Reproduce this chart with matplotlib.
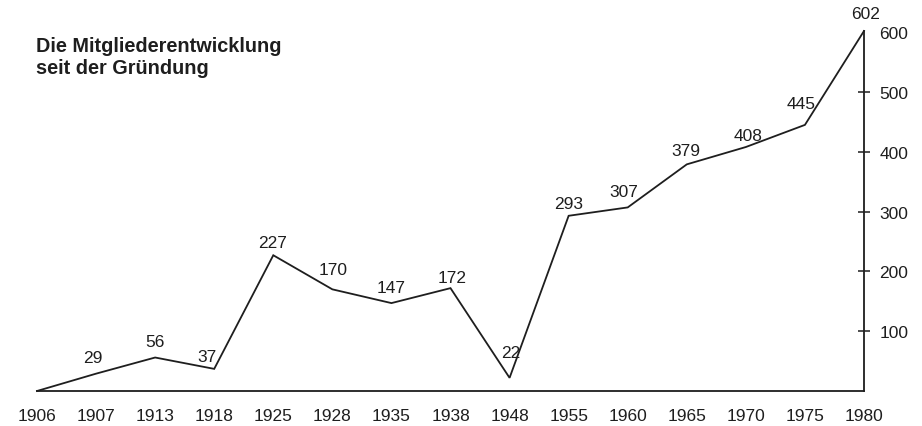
import matplotlib
matplotlib.use("Agg")
import matplotlib.pyplot as plt
import numpy as np

years = ["1906", "1907", "1913", "1918", "1925", "1928", "1935", "1938",
         "1948", "1955", "1960", "1965", "1970", "1975", "1980"]
members = [0, 29, 56, 37, 227, 170, 147, 172, 22, 293, 307, 379, 408, 445, 602]
value_labels = ["", "29", "56", "37", "227", "170", "147", "172", "22",
                "293", "307", "379", "408", "445", "602"]
y_ticks = [100, 200, 300, 400, 500, 600]
title = "Die Mitgliederentwicklung\nseit der Gründung"

# label offsets in pixels (style only)
offsets = [(0, 0), (-3, 12), (0, 12), (-7, 8), (-1, 8), (1, 15), (0, 11), (2, 6),
           (1, 21), (0, 8), (-4, 11), (-1, 9), (2, 7), (-4, 17), (2, 13)]

plt.rcParams['font.family'] = ['Liberation Sans', 'DejaVu Sans']
ink = "#1e1e1e"
fs = 12.5

fig = plt.figure(figsize=(9.22, 4.27), dpi=100)
ax = fig.add_axes([37/922, 35/427, 827/922, 360/427])
x = np.arange(len(years))
ax.plot(x, members, color=ink, lw=1.3, solid_joinstyle='miter', clip_on=False)

for xi, v, lab, off in zip(x, members, value_labels, offsets):
    if lab:
        ax.annotate(lab, (xi, v), xytext=off, textcoords='offset pixels',
                    ha='center', va='baseline', fontsize=fs, color=ink)

ax.set_xlim(x[0], x[-1])
ax.set_ylim(0, 602)
for s in ['top', 'left']:
    ax.spines[s].set_visible(False)
for s in ['bottom', 'right']:
    ax.spines[s].set_color(ink)
    ax.spines[s].set_linewidth(1.3)

ax.set_xticks(x)
ax.set_xticklabels(years, fontsize=fs, color=ink)
ax.tick_params(axis='x', which='major', length=0, pad=12)
ax.set_xticks(x[1:-1], minor=True)
ax.tick_params(axis='x', which='minor', direction='inout', length=8, width=1.1, color=ink)

ax.yaxis.tick_right()
ax.set_yticks(y_ticks)
ax.set_yticklabels([str(t) for t in y_ticks], fontsize=fs, color=ink)
ax.tick_params(axis='y', direction='inout', length=8, width=1.1, color=ink, pad=7)
ax.yaxis.get_major_ticks()[-1].tick2line.set_visible(False)

fig.text(36/922, 1 - 37/427, title, fontsize=14.3, fontweight='bold', color=ink,
         ha='left', va='top', linespacing=1.2)

fig.savefig("out.png", dpi=100)
